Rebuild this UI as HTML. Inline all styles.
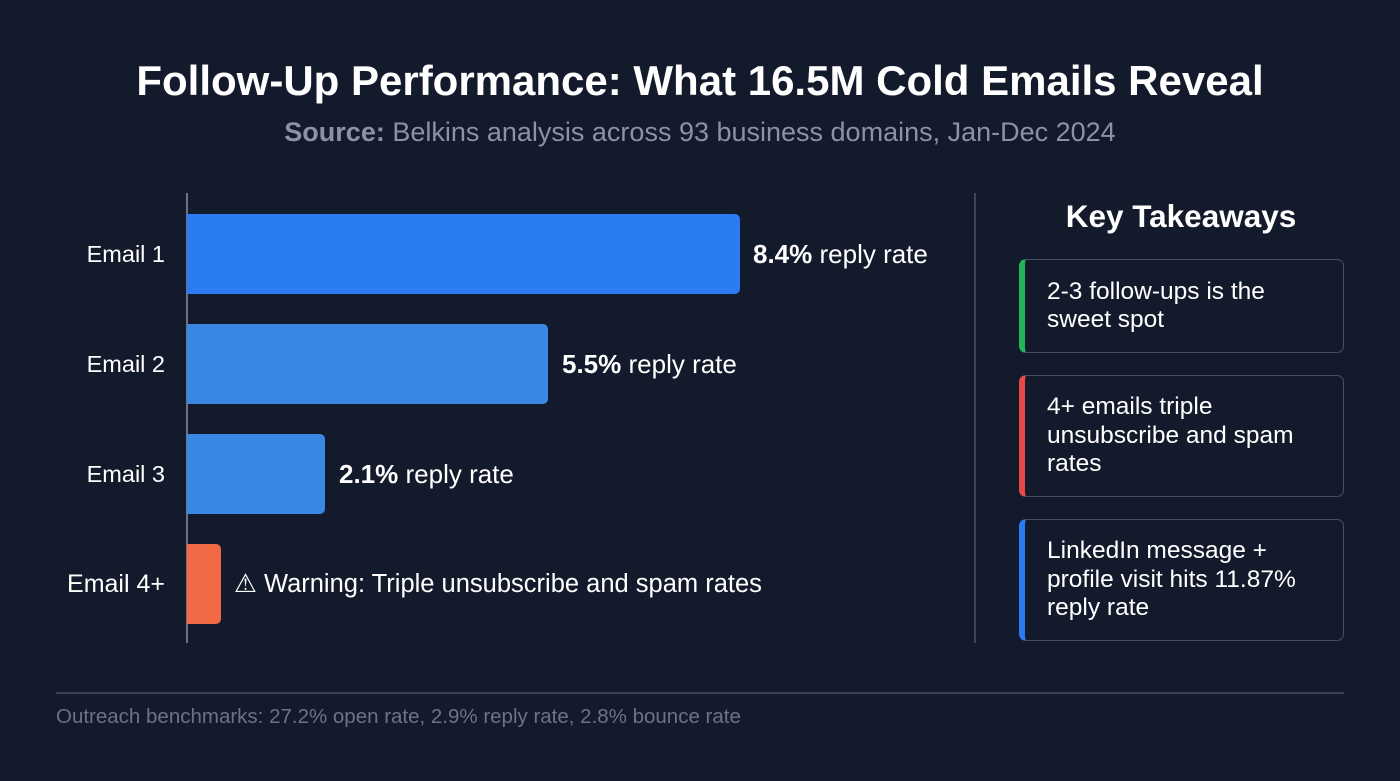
<!DOCTYPE html>
<html><head><meta charset="utf-8"><style>
body{margin:0;width:1400px;height:781px;background:#131a2b;font-family:"Liberation Sans",sans-serif;color:#fff;position:relative;overflow:hidden}
.a{position:absolute;white-space:nowrap}
.bar{position:absolute;left:187px;height:80px;border-radius:0 5px 5px 0}
.lab{position:absolute;right:1235px;font-size:25px;line-height:30px;text-align:right}
.val{position:absolute;font-size:26px;line-height:30px}
.card{position:absolute;left:1019px;width:325px;border:1.5px solid #465064;border-left:6px solid;border-radius:7px;box-sizing:border-box;font-size:24.5px;line-height:28.5px;padding-left:22px;display:flex;align-items:center}
</style></head><body>
<div class="a" style="left:0;width:1400px;text-align:center;top:57px;font-size:42px;font-weight:bold">Follow-Up Performance: What 16.5M Cold Emails Reveal</div>
<div class="a" style="left:0;width:1400px;text-align:center;top:117px;font-size:27px;color:#8a92a3"><b>Source:</b> Belkins analysis across 93 business domains, Jan-Dec 2024</div>
<div class="a" style="left:186px;top:193px;width:1.5px;height:450px;background:#6b7385"></div>
<div class="a" style="left:974px;top:193px;width:1.5px;height:450px;background:#3e4658"></div>
<div class="bar" style="top:214px;width:553px;background:#2b7bf2"></div>
<div class="bar" style="top:324px;width:361px;background:#3a88e6"></div>
<div class="bar" style="top:434px;width:138px;background:#3a88e6"></div>
<div class="bar" style="top:544px;width:34px;background:#f26a45"></div>
<div class="lab" style="top:239px;font-size:23.5px">Email 1</div>
<div class="lab" style="top:349px;font-size:23.5px">Email 2</div>
<div class="lab" style="top:459px;font-size:23.5px">Email 3</div>
<div class="lab" style="top:569px">Email 4+</div>
<div class="val" style="left:753px;top:239px"><b>8.4%</b> reply rate</div>
<div class="val" style="left:562px;top:349px"><b>5.5%</b> reply rate</div>
<div class="val" style="left:339px;top:459px"><b>2.1%</b> reply rate</div>
<div class="val" style="left:234px;top:569px;font-size:25.5px">⚠ Warning: Triple unsubscribe and spam rates</div>
<div class="a" style="left:1019px;width:324px;text-align:center;top:198px;font-size:31.5px;font-weight:bold">Key Takeaways</div>
<div class="card" style="top:259px;height:94px;border-left-color:#22b457">2-3 follow-ups is the<br>sweet spot</div>
<div class="card" style="top:375px;height:122px;border-left-color:#e84848">4+ emails triple<br>unsubscribe and spam<br>rates</div>
<div class="card" style="top:519px;height:122px;border-left-color:#2b7bf2">LinkedIn message +<br>profile visit hits 11.87%<br>reply rate</div>
<div class="a" style="left:56px;top:692px;width:1288px;height:1.5px;background:#3a4356"></div>
<div class="a" style="left:56px;top:705px;font-size:20.5px;color:#6b7385">Outreach benchmarks: 27.2% open rate, 2.9% reply rate, 2.8% bounce rate</div>
</body></html>
